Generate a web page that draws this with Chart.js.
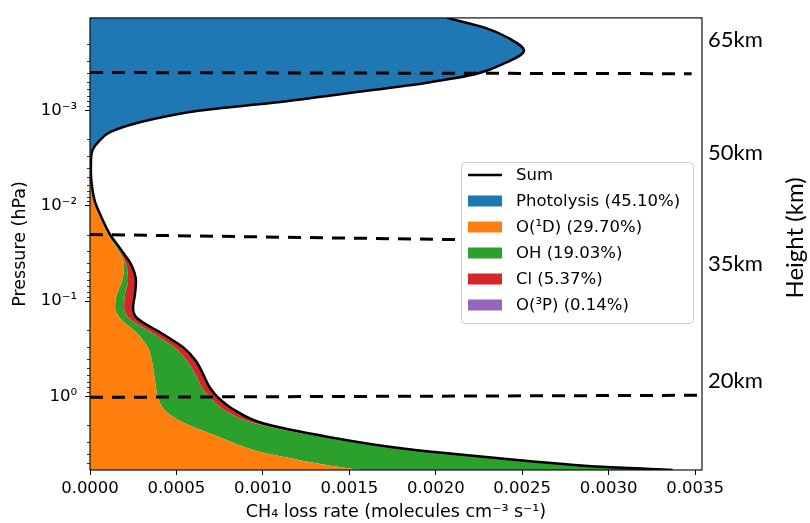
<!DOCTYPE html>
<html lang="en">
<head>
<meta charset="UTF-8">
<title>CH4 loss rate profile</title>
<script src="https://cdn.jsdelivr.net/npm/chart.js"></script>
<style>
  html, body { margin: 0; padding: 0; background: #fff; }
</style>
</head>
<body>
<canvas id="lossChart" width="810" height="523"></canvas>
<script>
// pressure levels (hPa), top of the plot to the bottom
const pressure = [1.07e-4, 1.36e-4, 1.74e-4, 2.37e-4, 3.16e-4, 4.12e-4, 5.11e-4, 6.49e-4, 8.26e-4, 1.0e-3,
                  1.33e-3, 1.69e-3, 2.05e-3, 2.55e-3, 3.24e-3, 4.43e-3, 6.34e-3, 9.09e-3, 0.0124, 0.0200,
                  0.0281, 0.0412, 0.0619, 0.0846, 0.118, 0.150, 0.221, 0.309, 0.422, 0.575,
                  0.805, 1.02, 1.40, 1.91, 2.67, 3.40, 3.92, 4.65, 5.50, 5.90];

// CH4 loss rate by process (molecules cm-3 s-1)
const photolysis = [0.002063, 0.002283, 0.002416, 0.002504, 0.002400, 0.002234, 0.001946, 0.001519, 0.001068, 0.000635,
                    0.000288, 0.000115, 0.000057, 0.000016, 0.000005, 0.000002, 0, 0, 0, 0,
                    0, 0, 0, 0, 0, 0, 0, 0, 0, 0,
                    0, 0, 0, 0, 0, 0, 0, 0, 0, 0];
const o1d = [0.000002, 0.000003, 0.000004, 0.000005, 0.000004, 0.000003, 0.000002, 0.000001, 0.000001, 0.000001,
             0.000001, 0.000001, 0.000001, 0.000001, 0.000001, 0.000003, 0.000012, 0.000029, 0.000058, 0.000104,
             0.000156, 0.000197, 0.000185, 0.000156, 0.000145, 0.000173, 0.000277, 0.000335, 0.000358, 0.000370,
             0.000381, 0.000393, 0.000434, 0.000549, 0.000751, 0.000896, 0.001012, 0.001214, 0.001445, 0.001561];
const oh = [0, 0, 0, 0, 0, 0, 0, 0, 0, 0,
            0, 0, 0, 0, 0, 0, 0, 0, 0, 0.000006,
            0.000006, 0.000012, 0.000035, 0.000046, 0.000052, 0.000052, 0.000092, 0.000156, 0.000202, 0.000237,
            0.000266, 0.000301, 0.000347, 0.000405, 0.000601, 0.000827, 0.001017, 0.001254, 0.001532, 0.001803];
const cl = [0, 0, 0, 0, 0, 0, 0, 0, 0, 0,
            0, 0, 0, 0, 0, 0, 0, 0, 0.000002, 0.000006,
            0.000012, 0.000029, 0.000046, 0.000058, 0.000052, 0.000046, 0.000052, 0.000052, 0.000052, 0.000046,
            0.000046, 0.000046, 0.000058, 0.000046, 0.000035, 0.000029, 0.000023, 0.000017, 0.000012, 0.000006];
const o3p = [0, 0.000001, 0.000001, 0.000001, 0.000001, 0.000001, 0.000001, 0.000001, 0, 0,
             0, 0, 0, 0, 0, 0, 0, 0, 0, 0,
             0, 0, 0, 0, 0, 0, 0, 0, 0, 0,
             0, 0, 0, 0, 0, 0, 0, 0, 0, 0];

const seriesNames = ['Photolysis (45.10%)', 'O(¹D) (29.70%)', 'OH (19.03%)', 'Cl (5.37%)', 'O(³P) (0.14%)'];
const seriesColors = ['#1f77b4', '#ff7f0e', '#2ca02c', '#d62728', '#9467bd'];

const xTicks = [0, 0.0005, 0.0010, 0.0015, 0.0020, 0.0025, 0.0030, 0.0035];
const yTicks = [1e-3, 1e-2, 1e-1, 1];
const yTickLabels = ['10⁻³', '10⁻²', '10⁻¹', '10⁰'];

// dashed altitude markers: pressure at left end / right end, and x where they stop
const markerLevels = [[4.0e-4, 4.12e-4], [0.0200, 0.0245], [1.02, 0.97]];
const markerEnds = [0.00348, 0.00348, 0.00355];

const heightLabels = ['65km', '50km', '35km', '20km'];
const heightLevels = [1.87e-4, 2.87e-3, 0.0422, 0.698];

const seriesValues = [photolysis, o1d, oh, cl, o3p];
const total = pressure.map((p, i) => seriesValues.reduce((s, arr) => s + arr[i], 0));

Chart.defaults.font.family = 'DejaVu Sans';
Chart.defaults.color = '#000';

const datasets = seriesValues.map((vals, k) => ({
    label: seriesNames[k],
    data: pressure.map((p, i) => ({x: vals[i], y: p})),
    backgroundColor: seriesColors[k],
    borderColor: 'rgba(0,0,0,0)',
    borderWidth: 0,
    pointRadius: 0,
    fill: k === 0 ? 'origin' : '-1',
    stack: 'loss',
    order: 2,
    cubicInterpolationMode: 'monotone'
}));

datasets.push({
    label: 'Sum',
    data: pressure.map((p, i) => ({x: total[i], y: p})),
    borderColor: '#000',
    borderWidth: 2.5,
    pointRadius: 0,
    fill: false,
    stack: 'sum',
    order: 1,
    cubicInterpolationMode: 'monotone'
});

markerLevels.forEach((lv, k) => {
    datasets.push({
        label: 'marker' + k,
        data: [{x: 0, y: lv[0]}, {x: markerEnds[k], y: lv[1]}],
        borderColor: '#000',
        borderWidth: 3,
        borderDash: [13, 9],
        pointRadius: 0,
        fill: false,
        stack: 'm' + k,
        order: 0,
        clip: false
    });
});

const decor = {
    id: 'decor',
    afterDatasetsDraw(chart) {
        const ctx = chart.ctx;
        const a = chart.chartArea;
        const ys = chart.scales.y;
        ctx.save();
        // minor ticks on the log axis
        ctx.strokeStyle = '#000';
        ctx.lineWidth = 0.8;
        for (let n = -4; n <= 0; n++) {
            for (let k = 2; k <= 9; k++) {
                const v = k * Math.pow(10, n);
                if (v < ys.min || v > ys.max) continue;
                const py = Math.round(ys.getPixelForValue(v)) + 0.5;
                ctx.beginPath();
                ctx.moveTo(a.left, py);
                ctx.lineTo(a.left - 3, py);
                ctx.stroke();
            }
        }
        // spines
        ctx.lineWidth = 1.2;
        ctx.strokeStyle = '#111';
        ctx.strokeRect(a.left, a.top, a.right - a.left, a.bottom - a.top);
        ctx.restore();
    },
    afterDraw(chart) {
        const ctx = chart.ctx;
        const a = chart.chartArea;
        const ys = chart.scales.y;
        ctx.save();

        // legend
        const lx = a.right - 241, ly = 162, lw = 232, lh = 161;
        ctx.fillStyle = '#ffffff';
        ctx.strokeStyle = '#cccccc';
        ctx.lineWidth = 1;
        ctx.beginPath();
        ctx.roundRect(lx + 0.5, ly + 0.5, lw, lh, 4);
        ctx.fill();
        ctx.stroke();

        const rows = [{label: 'Sum', color: '#000', line: true}]
            .concat(seriesNames.map((n, k) => ({label: n, color: seriesColors[k]})));
        ctx.font = '16.5px "DejaVu Sans"';
        ctx.textBaseline = 'middle';
        ctx.textAlign = 'left';
        rows.forEach((r, i) => {
            const cy = ly + 13 + i * 26;
            if (r.line) {
                ctx.strokeStyle = r.color;
                ctx.lineWidth = 2.5;
                ctx.beginPath();
                ctx.moveTo(lx + 7, cy);
                ctx.lineTo(lx + 41, cy);
                ctx.stroke();
            } else {
                ctx.fillStyle = r.color;
                ctx.fillRect(lx + 7, cy - 5.5, 34, 11);
            }
            ctx.fillStyle = '#000';
            ctx.fillText(r.label, lx + 55, cy + 1);
        });

        // altitude labels on the right
        ctx.font = '22px Lato';
        ctx.fillStyle = '#000';
        ctx.textBaseline = 'alphabetic';
        heightLabels.forEach((t, i) => {
            ctx.fillText(t, a.right + 6, ys.getPixelForValue(heightLevels[i]) + 6);
        });
        ctx.translate(795, (a.top + a.bottom) / 2 - 6);
        ctx.rotate(-Math.PI / 2);
        ctx.textAlign = 'center';
        ctx.textBaseline = 'middle';
        ctx.font = '24px Lato';
        ctx.fillText('Height (km)', 0, 0);
        ctx.restore();
    }
};

new Chart(document.getElementById('lossChart'), {
    type: 'line',
    data: { datasets: datasets },
    options: {
        responsive: false,
        animation: false,
        indexAxis: 'y',
        layout: { padding: { top: 12, right: 108, left: 0, bottom: 0 } },
        plugins: {
            legend: { display: false },
            tooltip: { enabled: false }
        },
        scales: {
            x: {
                type: 'linear',
                min: 0,
                max: 0.00354,
                stacked: true,
                afterBuildTicks: s => { s.ticks = xTicks.map(v => ({value: v})); },
                afterFit: s => { s.height = 53; },
                ticks: {
                    callback: v => Number(v).toFixed(4),
                    font: { size: 16.5 },
                    color: '#000',
                    padding: 4,
                    maxRotation: 0,
                    autoSkip: false
                },
                grid: { drawOnChartArea: false, tickLength: 5, color: '#000', tickWidth: 1 },
                border: { display: false },
                title: {
                    display: true,
                    text: 'CH₄ loss rate (molecules cm⁻³ s⁻¹)',
                    font: { size: 17.5 },
                    color: '#000',
                    padding: { top: 0, bottom: 0 }
                }
            },
            y: {
                type: 'logarithmic',
                min: 1.07e-4,
                max: 5.9,
                reverse: true,
                afterBuildTicks: s => { s.ticks = yTicks.map(v => ({value: v})); },
                afterFit: s => { s.width = 90; },
                ticks: {
                    callback: v => yTickLabels[yTicks.indexOf(v)] || '',
                    font: { size: 16.5 },
                    color: '#000',
                    padding: 8,
                    autoSkip: false
                },
                grid: { drawOnChartArea: false, tickLength: 5, color: '#000', tickWidth: 1 },
                border: { display: false },
                title: {
                    display: true,
                    text: 'Pressure (hPa)',
                    font: { size: 17.5 },
                    color: '#000',
                    padding: { top: 10, bottom: 0 }
                }
            }
        }
    },
    plugins: [decor]
});
</script>
</body>
</html>
